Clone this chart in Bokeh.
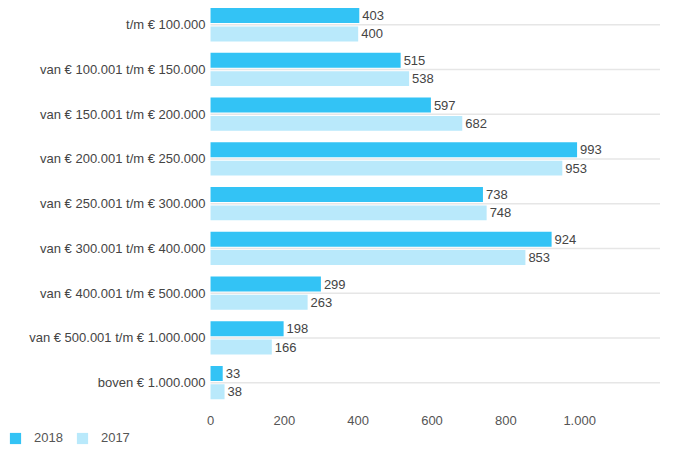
from bokeh.plotting import figure
from bokeh.models import ColumnDataSource, Range1d, FixedTicker, Legend, LegendItem, LabelSet
from bokeh.core.properties import value
from bokeh.embed import file_html
from bokeh.resources import INLINE

categories = [
    "t/m € 100.000",
    "van € 100.001 t/m € 150.000",
    "van € 150.001 t/m € 200.000",
    "van € 200.001 t/m € 250.000",
    "van € 250.001 t/m € 300.000",
    "van € 300.001 t/m € 400.000",
    "van € 400.001 t/m € 500.000",
    "van € 500.001 t/m € 1.000.000",
    "boven € 1.000.000",
]
values_2018 = [403, 515, 597, 993, 738, 924, 299, 198, 33]
values_2017 = [400, 538, 682, 953, 748, 853, 263, 166, 38]
x_ticks = [0, 200, 400, 600, 800, 1000]
x_tick_labels = ["0", "200", "400", "600", "800", "1.000"]

c2018 = "#33c3f5"
c2017 = "#b9e9fb"
font = "Liberation Sans"

idx = list(range(len(categories)))
off = 0.205
h = 0.335
x_start, x_end = -569, 1219
y_bottom, y_top = 9.426, -0.541
axis_y = 8.621

src18 = ColumnDataSource(dict(y=[i - off for i in idx], v=values_2018,
                              t=[str(v) for v in values_2018]))
src17 = ColumnDataSource(dict(y=[i + off for i in idx], v=values_2017,
                              t=[str(v) for v in values_2017]))

p = figure(width=660, height=446, output_backend="svg",
           toolbar_location=None, x_range=Range1d(x_start, x_end),
           y_range=Range1d(y_bottom, y_top), min_border=0)
p.outline_line_color = None
p.background_fill_color = "white"

# category grid lines (start at the value axis)
p.segment(x0=[0] * len(idx), y0=idx, x1=[x_end] * len(idx), y1=idx,
          line_color="#e6e6e6", line_width=1.5)

r18 = p.hbar(y="y", right="v", left=0, height=h, source=src18,
             fill_color=c2018, line_color=None)
r17 = p.hbar(y="y", right="v", left=0, height=h, source=src17,
             fill_color=c2017, line_color=None)

for s in (src18, src17):
    p.add_layout(LabelSet(x="v", y="y", text="t", source=s, x_offset=3,
                          text_baseline="middle", text_font=value(font),
                          text_font_size="13px", text_color="#444444"))

p.xgrid.visible = False
p.ygrid.visible = False

p.yaxis.fixed_location = 0
p.yaxis.ticker = FixedTicker(ticks=idx)
p.yaxis.major_label_overrides = {i: c for i, c in enumerate(categories)}
p.yaxis.axis_line_color = None
p.yaxis.major_tick_line_color = None
p.yaxis.minor_tick_line_color = None
p.yaxis.major_tick_out = 0
p.yaxis.major_tick_in = 0
p.yaxis.major_label_standoff = 5
p.yaxis.major_label_text_font = font
p.yaxis.major_label_text_font_size = "13px"
p.yaxis.major_label_text_color = "#444444"

p.xaxis.fixed_location = axis_y
p.xaxis.ticker = FixedTicker(ticks=x_ticks)
p.xaxis.major_label_overrides = {t: l for t, l in zip(x_ticks, x_tick_labels)}
p.xaxis.axis_line_color = None
p.xaxis.major_tick_line_color = None
p.xaxis.minor_tick_line_color = None
p.xaxis.major_tick_out = 0
p.xaxis.major_tick_in = 0
p.xaxis.major_label_standoff = 6
p.xaxis.major_label_text_font = font
p.xaxis.major_label_text_font_size = "13px"
p.xaxis.major_label_text_color = "#555555"

legend = Legend(items=[LegendItem(label="2018", renderers=[r18]),
                       LegendItem(label="2017", renderers=[r17])],
                orientation="horizontal", location=(8, 1),
                margin=0, padding=0, spacing=12, label_standoff=12,
                glyph_width=14, glyph_height=14, label_height=14,
                border_line_color=None, background_fill_alpha=0,
                label_text_font=font,
                label_text_font_size="13px", label_text_color="#555555")
p.add_layout(legend, "center")

open("out.html", "w").write(file_html(p, INLINE))
